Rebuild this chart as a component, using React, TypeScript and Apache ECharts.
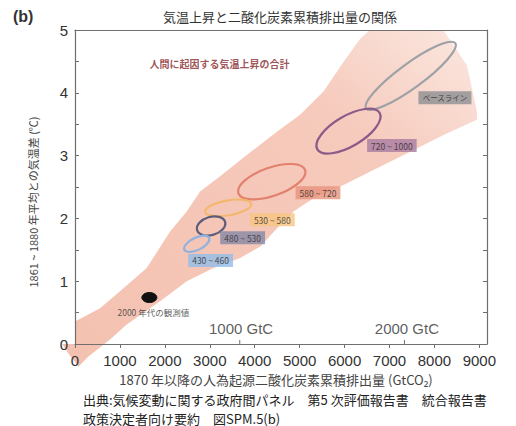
import React, { useEffect, useRef } from 'react';
import * as echarts from 'echarts';

// ---- data ----
const xTicks = [0, 1000, 2000, 3000, 4000, 5000, 6000, 7000, 8000, 9000];
const yTicks = [0, 0.5, 1, 1.5, 2, 2.5, 3, 3.5, 4, 4.5, 5];
const yLabelValues = [0, 1, 2, 3, 4, 5];

// band of total human-induced warming (outline, GtCO2 / degC)
const bandX = [0, 557, 1002, 1596, 2116, 2487, 2784, 3229, 3823, 4492, 5011, 5531, 5976, 6347, 6570, 8200, 8723, 8946, 8946, 8203, 7461, 6719, 5976, 5308, 4863, 4492, 4120, 3675, 3081, 2487, 1893, 1151, 780, 300, 80, -150, -280, 0];
const bandY = [0.36, 0.57, 0.84, 1.21, 1.79, 2.11, 2.43, 2.67, 3.01, 3.38, 3.65, 4.02, 4.49, 4.86, 5.0, 5.0, 4.44, 3.70, 3.57, 3.33, 3.06, 2.80, 2.53, 2.32, 2.11, 1.84, 1.55, 1.37, 1.21, 1.00, 0.68, 0.31, 0.07, -0.2, -0.36, -0.15, 0, 0];

// scenario ellipses: centre, end of major axis, minor/major ratio
const scenarioNames = ['ベースライン', '720 ~ 1000', '580 ~ 720', '530 ~ 580', '480 ~ 530', '430 ~ 460'];
const ellipseCx = [7472, 6087, 4380, 3408, 3029, 2710];
const ellipseCy = [4.27, 3.39, 2.585, 2.167, 1.88, 1.595];
const ellipseEx = [8463, 6780, 5122, 3920, 3341, 2984];
const ellipseEy = [4.79, 3.68, 2.77, 2.23, 1.945, 1.69];
const ellipseRatio = [0.22, 0.42, 0.4, 0.32, 0.62, 0.45];
const scenarioLabelX = [8234, 7053, 5408, 4392, 3731, 3018];
const scenarioLabelY = [3.92, 3.16, 2.41, 1.98, 1.69, 1.33];

// observed 2000s
const obsCx = [1655];
const obsCy = [0.74];
const obsEx = [1822];
const obsEy = [0.74];
const obsRatio = [0.67];
const obsLabel = '2000 年代の観測値';
const obsLabelX = 1744;
const obsLabelY = 0.51;

const gtcMarks = [3667, 7333];
const gtcLabels = ['1000 GtC', '2000 GtC'];
const gtcLabelX = [3697, 7388];
const gtcLabelY = [0.243, 0.243];

const bandLabel = '人間に起因する気温上昇の合計';
const bandLabelX = 3214;
const bandLabelY = 4.47;

const titleText = '気温上昇と二酸化炭素累積排出量の関係';
const panelText = '(b)';
const xName = '1870 年以降の人為起源二酸化炭素累積排出量 (GtCO₂)';
const yName = '1861 ~ 1880 年平均との気温差 (℃)';
const sourceLine1 = '出典:気候変動に関する政府間パネル　第5 次評価報告書　統合報告書';
const sourceLine2 = '政策決定者向け要約　図SPM.5(b)';

// ---- styles ----
const ellipseColors = ['#9ea1a5', '#8c5a88', '#e2816d', '#f3b86e', '#5d5d7a', '#8fb2de'];
const labelBg = ['#8d8f92', '#a97aa0', '#e9927d', '#f8c582', '#8688a6', '#92bdea'];
const CJK = '"Noto Sans CJK JP", "Noto Sans", sans-serif';
const NUM = '"Liberation Sans Narrow", "Liberation Sans", Arial, sans-serif';
const AXIS = '#6f6f6f';

export default function App() {
  const ref = useRef<HTMLDivElement>(null);
  useEffect(() => {
    document.body.style.margin = '0';
    if (!ref.current) return;
    const chart = echarts.init(ref.current, undefined, { renderer: 'svg' });

    const bandFill = new echarts.graphic.LinearGradient(0, 1, 1, 0, [
      { offset: 0, color: '#f4c1b0' },
      { offset: 0.7, color: '#f6cabc' },
      { offset: 1, color: '#fbe8e1' },
    ]);

    const ellipseData = ellipseCx.map((cx, i) => [cx, ellipseCy[i], ellipseEx[i], ellipseEy[i], ellipseRatio[i], i]);
    const obsData = obsCx.map((cx, i) => [cx, obsCy[i], obsEx[i], obsEy[i], obsRatio[i]]);

    const ellipseRender = (filled: boolean) => (params: any, api: any) => {
      const c = api.coord([api.value(0), api.value(1)]);
      const e = api.coord([api.value(2), api.value(3)]);
      const dx = e[0] - c[0];
      const dy = e[1] - c[1];
      const a = Math.hypot(dx, dy);
      const rot = Math.atan2(-dy, dx);
      const idx = api.value(5);
      return {
        type: 'ellipse',
        x: c[0],
        y: c[1],
        rotation: rot,
        shape: { cx: 0, cy: 0, rx: a, ry: a * api.value(4) },
        style: filled
          ? { fill: '#111111', stroke: '#111111', lineWidth: 1 }
          : { fill: 'none', stroke: ellipseColors[idx], lineWidth: 2.2 },
      };
    };

    const textPoint = (name: string, x: number, y: number, label: any) => ({ name, value: [x, y], label });

    chart.setOption({
      animation: false,
      grid: { left: 75, right: 29, top: 30, bottom: 82 },
      xAxis: [
        {
          type: 'value',
          min: 0,
          max: 9170,
          interval: 1000,
          z: 5,
          name: xName,
          nameLocation: 'middle',
          nameGap: 28,
          nameTextStyle: { fontFamily: CJK, fontSize: 13, color: '#444', padding: [0, 10, 0, 0] },
          axisLine: { show: true, lineStyle: { color: AXIS, width: 1.2 } },
          axisTick: { show: true, inside: false, length: 4, customValues: xTicks, lineStyle: { color: AXIS } },
          axisLabel: {
            customValues: xTicks,
            formatter: (v: number) => (v % 1000 === 0 ? String(v) : ''),
            fontFamily: NUM,
            fontSize: 15,
            color: '#333',
            margin: 9,
          },
          splitLine: { show: false },
        },
        {
          type: 'value',
          position: 'top',
          min: 0,
          max: 9170,
          z: 5,
          axisLine: { show: true, onZero: false, lineStyle: { color: AXIS, width: 1.2 } },
          axisTick: { show: false },
          axisLabel: { show: false },
          splitLine: { show: false },
        },
      ],
      yAxis: [
        {
          type: 'value',
          min: 0,
          max: 5,
          interval: 0.5,
          z: 5,
          axisLine: { show: true, lineStyle: { color: AXIS, width: 1.2 } },
          axisTick: { show: true, inside: true, length: 4, customValues: yTicks, lineStyle: { color: AXIS } },
          axisLabel: {
            customValues: yLabelValues,
            formatter: (v: number) => (Number.isInteger(v) ? String(v) : ''),
            fontFamily: NUM,
            fontSize: 15,
            color: '#333',
            margin: 7,
          },
          splitLine: { show: false },
        },
        {
          type: 'value',
          position: 'right',
          min: 0,
          max: 5,
          interval: 0.5,
          z: 5,
          axisLine: { show: true, onZero: false, lineStyle: { color: AXIS, width: 1.2 } },
          axisTick: { show: true, inside: true, length: 4, customValues: yTicks, lineStyle: { color: AXIS } },
          axisLabel: { show: false },
          splitLine: { show: false },
        },
      ],
      series: [
        {
          type: 'custom',
          name: 'band',
          silent: true,
          z: 1,
          clip: false,
          data: [[0, 0]],
          renderItem: (params: any, api: any) => {
            const pts = bandX.map((x, i) => api.coord([x, bandY[i]]));
            return { type: 'polygon', shape: { points: pts }, style: { fill: bandFill } };
          },
        },
        {
          type: 'custom',
          name: 'scenarios',
          silent: true,
          z: 3,
          data: ellipseData,
          renderItem: ellipseRender(false),
        },
        {
          type: 'custom',
          name: 'observed',
          silent: true,
          z: 3,
          data: obsData,
          renderItem: ellipseRender(true),
        },
        {
          type: 'custom',
          name: 'gtcTicks',
          silent: true,
          z: 6,
          clip: false,
          data: gtcMarks.map((x) => [x, 0]),
          renderItem: (params: any, api: any) => {
            const p = api.coord([api.value(0), 0]);
            return {
              type: 'line',
              shape: { x1: p[0], y1: p[1], x2: p[0], y2: p[1] - 4 },
              style: { stroke: AXIS, lineWidth: 1 },
            };
          },
        },
        {
          type: 'scatter',
          name: 'scenarioLabels',
          silent: true,
          symbolSize: 0,
          z: 4,
          data: scenarioNames.map((n, i) =>
            textPoint(n, scenarioLabelX[i], scenarioLabelY[i], {
              backgroundColor: labelBg[i],
              fontSize: i === 0 ? 7.5 : 8.5,
            })
          ),
          label: {
            show: true,
            position: 'inside',
            formatter: '{b}',
            fontFamily: CJK,
            color: '#2a2a2a',
            fontSize: 8.5,
            lineHeight: 9,
            padding: [2, 4, 2, 4],
          },
        },
        {
          type: 'scatter',
          name: 'texts',
          silent: true,
          symbolSize: 0,
          z: 4,
          data: [
            textPoint(bandLabel, bandLabelX, bandLabelY, { fontFamily: CJK, fontSize: 10, fontWeight: 'bold', color: '#86282b' }),
            textPoint(obsLabel, obsLabelX, obsLabelY, { fontFamily: CJK, fontSize: 8.5, color: '#333' }),
            ...gtcLabels.map((g, i) =>
              textPoint(g, gtcLabelX[i], gtcLabelY[i], { fontFamily: NUM, fontSize: 15, color: '#333' })
            ),
          ],
          label: { show: true, position: 'inside', formatter: '{b}' },
        },
      ],
      graphic: [
        {
          type: 'text',
          x: 280,
          y: 16,
          style: { text: titleText, font: `13px ${CJK}`, fill: '#333', textAlign: 'center', textVerticalAlign: 'middle' },
        },
        {
          type: 'text',
          x: 13,
          y: 16,
          style: { text: panelText, font: `bold 16px "Liberation Sans", Arial, sans-serif`, fill: '#333', textAlign: 'left', textVerticalAlign: 'middle' },
        },
        {
          type: 'text',
          x: 33,
          y: 202,
          rotation: Math.PI / 2,
          style: { text: yName, font: `11px ${CJK}`, fill: '#444', textAlign: 'center', textVerticalAlign: 'middle' },
        },
        {
          type: 'text',
          x: 83,
          y: 399,
          style: { text: sourceLine1, font: `13px ${CJK}`, fill: '#222', textAlign: 'left', textVerticalAlign: 'middle' },
        },
        {
          type: 'text',
          x: 83,
          y: 418,
          style: { text: sourceLine2, font: `13px ${CJK}`, fill: '#222', textAlign: 'left', textVerticalAlign: 'middle' },
        },
      ],
    });
    return () => chart.dispose();
  }, []);
  return <div ref={ref} style={{ width: 516, height: 426 }} />;
}
